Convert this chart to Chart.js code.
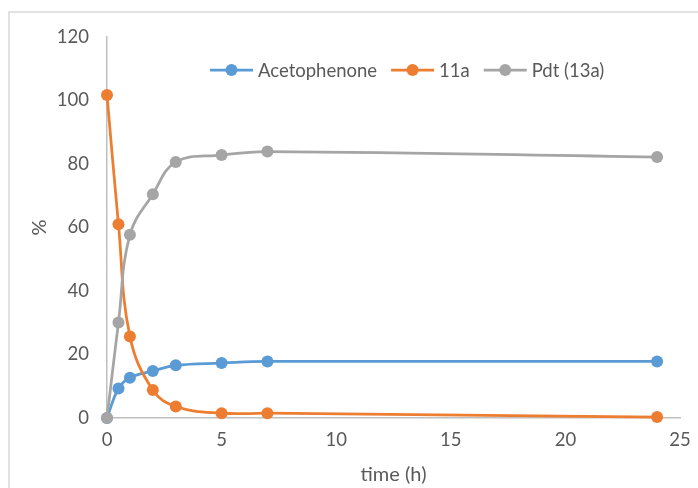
<!DOCTYPE html>
<html>
<head>
<meta charset="utf-8">
<script src="https://cdn.jsdelivr.net/npm/chart.js@4/dist/chart.umd.min.js"></script>
<style>
  html, body { margin: 0; padding: 0; background: #ffffff; }
  #wrap { width: 698px; height: 488px; position: relative; }
</style>
</head>
<body>
<div id="wrap"><canvas id="c" width="698" height="488"></canvas></div>
<script>
// Reaction time course: percentage of each species versus time
const timeHours = [0, 0.5, 1, 2, 3, 5, 7, 24];
const acetophenone = [0, 9.3, 12.7, 14.8, 16.6, 17.3, 17.8, 17.8];
const compound11a = [101.7, 61, 25.7, 8.8, 3.6, 1.5, 1.5, 0.3];
const product13a = [0, 30.1, 57.7, 70.5, 80.6, 82.8, 83.9, 82.2];
const seriesNames = ['Acetophenone', '11a', 'Pdt (13a)'];
const xTicks = [0, 5, 10, 15, 20, 25];
const yTicks = [0, 20, 40, 60, 80, 100, 120];

const colors = ['#5b9bd5', '#ed7d31', '#a5a5a5'];
const textColor = '#595959';
const fontFamily = 'Lato, "Open Sans", sans-serif';

function toPoints(values) {
  return timeHours.map((t, i) => ({ x: t, y: values[i] }));
}

function makeDataset(name, values, color, order) {
  return {
    label: name,
    data: toPoints(values),
    showLine: true,
    borderColor: color,
    backgroundColor: color,
    borderWidth: 2.75,
    pointRadius: 6,
    pointHoverRadius: 6,
    pointBorderWidth: 0,
    pointBackgroundColor: color,
    tension: 0.4,
    clip: false,
    order: order
  };
}

// Outer chart frame
const framePlugin = {
  id: 'frame',
  beforeDraw(chart) {
    const ctx = chart.ctx;
    ctx.save();
    ctx.strokeStyle = '#d9d9d9';
    ctx.lineWidth = 1.5;
    ctx.beginPath();
    ctx.moveTo(9, chart.height + 2);
    ctx.lineTo(9, 12);
    ctx.lineTo(chart.width + 2, 12);
    ctx.stroke();
    ctx.restore();
  }
};

// Legend drawn inside the plot area: line + marker + label per series
const inlineLegend = {
  id: 'inlineLegend',
  afterDatasetsDraw(chart) {
    const ctx = chart.ctx;
    ctx.save();
    ctx.font = '18.5px ' + fontFamily;
    ctx.textBaseline = 'middle';
    ctx.textAlign = 'left';
    const y = 70;
    let x = 210;
    const lineLen = 43, gapText = 5, gapItem = 14;
    chart.data.datasets.forEach((ds) => {
      ctx.strokeStyle = ds.borderColor;
      ctx.lineWidth = 2.75;
      ctx.beginPath();
      ctx.moveTo(x, y);
      ctx.lineTo(x + lineLen, y);
      ctx.stroke();
      ctx.fillStyle = ds.borderColor;
      ctx.beginPath();
      ctx.arc(x + lineLen / 2, y, 6, 0, Math.PI * 2);
      ctx.fill();
      x += lineLen + gapText;
      ctx.fillStyle = textColor;
      ctx.fillText(ds.label, x, y + 1);
      x += ctx.measureText(ds.label).width + gapItem;
    });
    ctx.restore();
  }
};

new Chart(document.getElementById('c'), {
  type: 'scatter',
  data: {
    datasets: [
      makeDataset(seriesNames[0], acetophenone, colors[0], 3),
      makeDataset(seriesNames[1], compound11a, colors[1], 2),
      makeDataset(seriesNames[2], product13a, colors[2], 1)
    ]
  },
  options: {
    responsive: false,
    animation: false,
    devicePixelRatio: 1,
    layout: { padding: { top: 37, right: 18, left: 0, bottom: 0 } },
    plugins: {
      legend: { display: false },
      tooltip: { enabled: false }
    },
    scales: {
      x: {
        type: 'linear',
        min: xTicks[0],
        max: xTicks[xTicks.length - 1],
        afterBuildTicks(scale) { scale.ticks = xTicks.map(v => ({ value: v })); },
        afterFit(scale) {
          scale.height = 70;
          scale.paddingLeft = 0;
          scale.paddingRight = 0;
        },
        grid: { display: false, drawTicks: false },
        border: { display: true, color: '#bfbfbf', width: 1.5 },
        ticks: { color: textColor, font: { family: fontFamily, size: 18.5 }, padding: 11, maxRotation: 0 },
        title: {
          display: true,
          text: 'time (h)',
          color: textColor,
          font: { family: fontFamily, size: 20 },
          padding: { top: 1, bottom: 1 }
        }
      },
      y: {
        type: 'linear',
        min: yTicks[0],
        max: yTicks[yTicks.length - 1],
        afterBuildTicks(scale) { scale.ticks = yTicks.map(v => ({ value: v })); },
        afterFit(scale) {
          scale.width = 107;
          scale.paddingTop = 0;
          scale.paddingBottom = 0;
        },
        grid: { display: false, drawTicks: false },
        border: { display: true, color: '#bfbfbf', width: 1.5 },
        ticks: { color: textColor, font: { family: fontFamily, size: 18.5 }, padding: 18 },
        title: {
          display: true,
          text: '%',
          color: textColor,
          font: { family: fontFamily, size: 20 },
          padding: { top: 28, bottom: 0 }
        }
      }
    }
  },
  plugins: [framePlugin, inlineLegend]
});
</script>
</body>
</html>
